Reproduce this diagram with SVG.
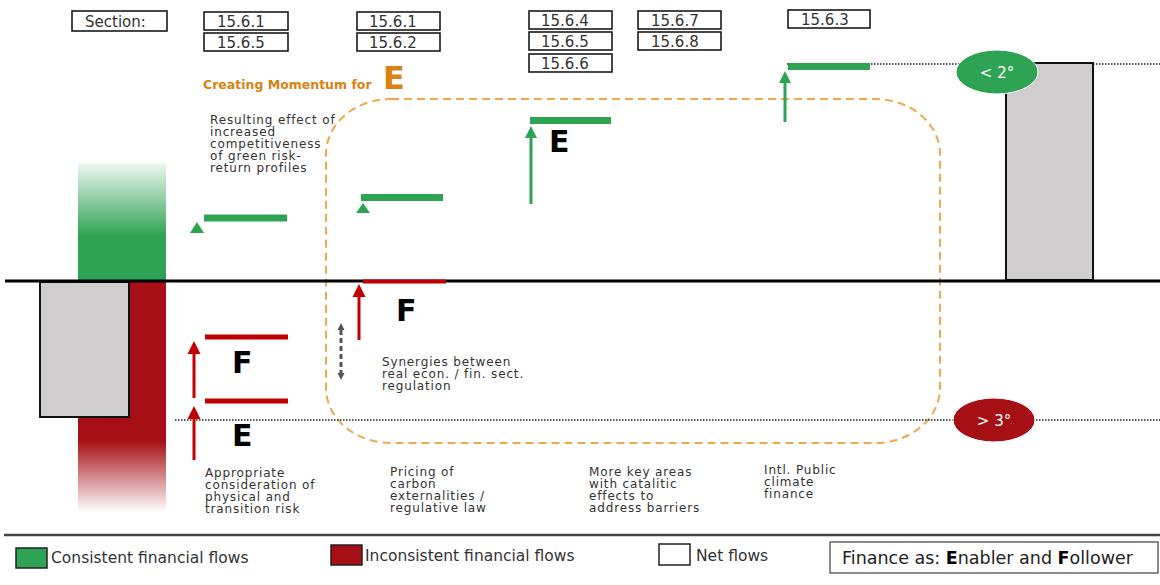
<svg xmlns="http://www.w3.org/2000/svg" width="1160" height="585" viewBox="0 0 1160 585">
<style>
  .sec rect { fill:#fff; stroke:#1a1a1a; stroke-width:1.6; }
  .sec text { font-family:"DejaVu Sans",sans-serif; font-size:15px; fill:#333; }
  .lbl { font-family:"DejaVu Sans",sans-serif; font-size:12px; fill:#333; letter-spacing:0.85px; }
  .big { font-family:"DejaVu Sans",sans-serif; font-weight:bold; font-size:30px; fill:#000; }
  .leg { font-family:"DejaVu Sans",sans-serif; font-size:15.5px; fill:#333; }
  .gbar { stroke:#2EA354; stroke-width:7; }
  .rbar { stroke:#C00000; stroke-width:5; }
  .garr { stroke:#2EA354; stroke-width:3; fill:none; }
  .rarr { stroke:#C00000; stroke-width:3; fill:none; }
  .dot { stroke:#222; stroke-width:1.6; stroke-dasharray:1.5 1.5; fill:none; }
  .net { fill:#CFCDCE; stroke:#111; stroke-width:2; }
</style>
<defs>
  <linearGradient id="gGreen" x1="0" y1="163" x2="0" y2="281" gradientUnits="userSpaceOnUse">
    <stop offset="0" stop-color="#2EA354" stop-opacity="0.08"/>
    <stop offset="0.62" stop-color="#2EA354" stop-opacity="1"/>
    <stop offset="1" stop-color="#2EA354" stop-opacity="1"/>
  </linearGradient>
  <linearGradient id="gRed" x1="0" y1="282" x2="0" y2="512" gradientUnits="userSpaceOnUse">
    <stop offset="0" stop-color="#A50F15" stop-opacity="1"/>
    <stop offset="0.69" stop-color="#A50F15" stop-opacity="1"/>
    <stop offset="1" stop-color="#A50F15" stop-opacity="0"/>
  </linearGradient>
  <marker id="ahG" viewBox="0 0 10 10" refX="0" refY="5" markerWidth="12" markerHeight="13" markerUnits="userSpaceOnUse" orient="auto">
    <path d="M0,0 L10,5 L0,10 z" fill="#2EA354"/>
  </marker>
  <marker id="ahR" viewBox="0 0 10 10" refX="0" refY="5" markerWidth="13" markerHeight="14" markerUnits="userSpaceOnUse" orient="auto">
    <path d="M0,0 L10,5 L0,10 z" fill="#C00000"/>
  </marker>
  <marker id="ahK" viewBox="0 0 10 10" refX="0" refY="5" markerWidth="7" markerHeight="10" markerUnits="userSpaceOnUse" orient="auto-start-reverse">
    <path d="M0,0 L10,5 L0,10 z" fill="#555"/>
  </marker>
</defs>

<!-- section boxes -->
<g id="sections" class="sec">
  <g id="sec-label"><rect x="72" y="11" width="95" height="20"/><text x="85" y="27">Section:</text></g>
  <g id="sec-a1"><rect x="204" y="12" width="84" height="18"/><text x="217" y="27">15.6.1</text></g>
  <g id="sec-a2"><rect x="204" y="33" width="84" height="18"/><text x="217" y="48">15.6.5</text></g>
  <g id="sec-b1"><rect x="357" y="12" width="83" height="18"/><text x="369" y="27">15.6.1</text></g>
  <g id="sec-b2"><rect x="357" y="33" width="83" height="18"/><text x="369" y="48">15.6.2</text></g>
  <g id="sec-c1"><rect x="529" y="11" width="83" height="18"/><text x="541" y="26">15.6.4</text></g>
  <g id="sec-c2"><rect x="529" y="32" width="83" height="18"/><text x="541" y="47">15.6.5</text></g>
  <g id="sec-c3"><rect x="529" y="54" width="83" height="18"/><text x="541" y="69">15.6.6</text></g>
  <g id="sec-d1"><rect x="638" y="11" width="83" height="18"/><text x="651" y="26">15.6.7</text></g>
  <g id="sec-d2"><rect x="638" y="32" width="83" height="18"/><text x="651" y="47">15.6.8</text></g>
  <g id="sec-e1"><rect x="788" y="10" width="82" height="18"/><text x="801" y="25">15.6.3</text></g>
</g>

<!-- momentum area -->
<g id="momentum">
  <text x="203" y="89" font-family="DejaVu Sans,sans-serif" font-weight="bold" font-size="12.5" fill="#D9820F">Creating Momentum for</text>
  <text x="383" y="89" font-family="DejaVu Sans,sans-serif" font-weight="bold" font-size="32" fill="#D9820F">E</text>
  <rect x="326" y="99" width="614" height="344" rx="65" ry="55" fill="none" stroke="#EFA94A" stroke-width="2" stroke-dasharray="8 5"/>
</g>

<!-- reference lines -->
<g id="guides">
  <line class="dot" x1="787" y1="64" x2="1160" y2="64"/>
  <line class="dot" x1="175" y1="420" x2="1160" y2="420"/>
</g>

<!-- left current flows -->
<g id="current-flows">
  <rect x="78" y="163" width="88" height="118" fill="url(#gGreen)"/>
  <rect x="78" y="282" width="88" height="230" fill="url(#gRed)"/>
  <rect class="net" x="40" y="282" width="89" height="135"/>
</g>

<!-- right target -->
<g id="target">
  <rect class="net" x="1006" y="63" width="87" height="217"/>
</g>

<!-- axis -->
<line id="axis" x1="5" y1="281" x2="1160" y2="281" stroke="#000" stroke-width="3"/>

<!-- connectors -->
<g id="connectors">
  <polygon points="190,233 204,233 197,222" fill="#2EA354"/>
  <line class="gbar" x1="204" y1="218" x2="287" y2="218"/>
  <polygon points="356,213 370,213 363,203" fill="#2EA354"/>
  <line class="gbar" x1="361" y1="197.5" x2="443" y2="197.5"/>
  <line class="garr" x1="531" y1="204" x2="531" y2="138" marker-end="url(#ahG)"/>
  <line class="gbar" x1="530" y1="120.5" x2="611" y2="120.5"/>
  <line class="garr" x1="785" y1="122" x2="785" y2="83" marker-end="url(#ahG)"/>
  <line class="gbar" x1="788" y1="66.5" x2="870" y2="66.5"/>

  <line x1="363" y1="281.5" x2="446" y2="281.5" stroke="#C00000" stroke-width="4"/>
  <line class="rarr" x1="359" y1="340" x2="359" y2="297" marker-end="url(#ahR)"/>
  <line class="rarr" x1="194" y1="398" x2="194" y2="354" marker-end="url(#ahR)"/>
  <line class="rbar" x1="205" y1="337" x2="288" y2="337"/>
  <line class="rarr" x1="194" y1="460" x2="194" y2="419" marker-end="url(#ahR)"/>
  <line class="rbar" x1="205" y1="401" x2="288" y2="401"/>

  <line x1="341" y1="330" x2="341" y2="373" stroke="#555" stroke-width="3" stroke-dasharray="5 3" marker-start="url(#ahK)" marker-end="url(#ahK)"/>
</g>

<!-- E / F markers -->
<g id="ef-labels" class="big">
  <text x="549" y="152">E</text>
  <text x="396" y="321">F</text>
  <text x="232" y="373">F</text>
  <text x="232" y="446">E</text>
</g>

<!-- temperature nodes -->
<g id="node-2deg">
  <ellipse cx="997" cy="72" rx="41" ry="22" fill="#2EA354" stroke="#fff" stroke-width="1"/>
  <text x="997" y="78" text-anchor="middle" font-family="DejaVu Sans,sans-serif" font-size="15" fill="#fff">&lt; 2°</text>
</g>
<g id="node-3deg">
  <ellipse cx="994" cy="420" rx="41" ry="22" fill="#A50F15" stroke="#fff" stroke-width="1"/>
  <text x="994" y="426" text-anchor="middle" font-family="DejaVu Sans,sans-serif" font-size="15" fill="#fff">&gt; 3°</text>
</g>

<!-- descriptive labels -->
<g id="label-resulting" class="lbl">
  <text x="210" y="124">Resulting effect of</text>
  <text x="210" y="136">increased</text>
  <text x="210" y="148">competitiveness</text>
  <text x="210" y="160">of green risk-</text>
  <text x="210" y="172">return profiles</text>
</g>
<g id="label-synergies" class="lbl">
  <text x="382" y="366">Synergies between</text>
  <text x="382" y="378">real econ. / fin. sect.</text>
  <text x="382" y="390">regulation</text>
</g>
<g id="label-risk" class="lbl">
  <text x="205" y="477">Appropriate</text>
  <text x="205" y="489">consideration of</text>
  <text x="205" y="501">physical and</text>
  <text x="205" y="513">transition risk</text>
</g>
<g id="label-pricing" class="lbl">
  <text x="390" y="476">Pricing of</text>
  <text x="390" y="488">carbon</text>
  <text x="390" y="500">externalities /</text>
  <text x="390" y="512">regulative law</text>
</g>
<g id="label-keyareas" class="lbl">
  <text x="589" y="476">More key areas</text>
  <text x="589" y="488">with catalitic</text>
  <text x="589" y="500">effects to</text>
  <text x="589" y="512">address barriers</text>
</g>
<g id="label-intl" class="lbl">
  <text x="764" y="474">Intl. Public</text>
  <text x="764" y="486">climate</text>
  <text x="764" y="498">finance</text>
</g>

<!-- legend -->
<line x1="4" y1="535" x2="1160" y2="535" stroke="#444" stroke-width="2.5"/>
<g id="legend">
  <g id="leg-green"><rect x="16" y="548" width="31" height="20" fill="#2EA354" stroke="#222" stroke-width="1.5"/><text class="leg" x="51" y="563">Consistent financial flows</text></g>
  <g id="leg-red"><rect x="331" y="545" width="31" height="20" fill="#A50F15" stroke="#222" stroke-width="1.5"/><text class="leg" x="365" y="561">Inconsistent financial flows</text></g>
  <g id="leg-net"><rect x="659" y="544" width="31" height="21" fill="#fff" stroke="#222" stroke-width="1.5"/><text class="leg" x="696" y="561">Net flows</text></g>
  <g id="leg-finance"><rect x="830" y="542" width="328" height="31" fill="#fff" stroke="#666" stroke-width="1.5"/>
    <text x="842" y="564" font-family="DejaVu Sans,sans-serif" font-size="17.5" fill="#222">Finance as: <tspan font-weight="bold" fill="#000">E</tspan>nabler and <tspan font-weight="bold" fill="#000">F</tspan>ollower</text></g>
</g>
</svg>
